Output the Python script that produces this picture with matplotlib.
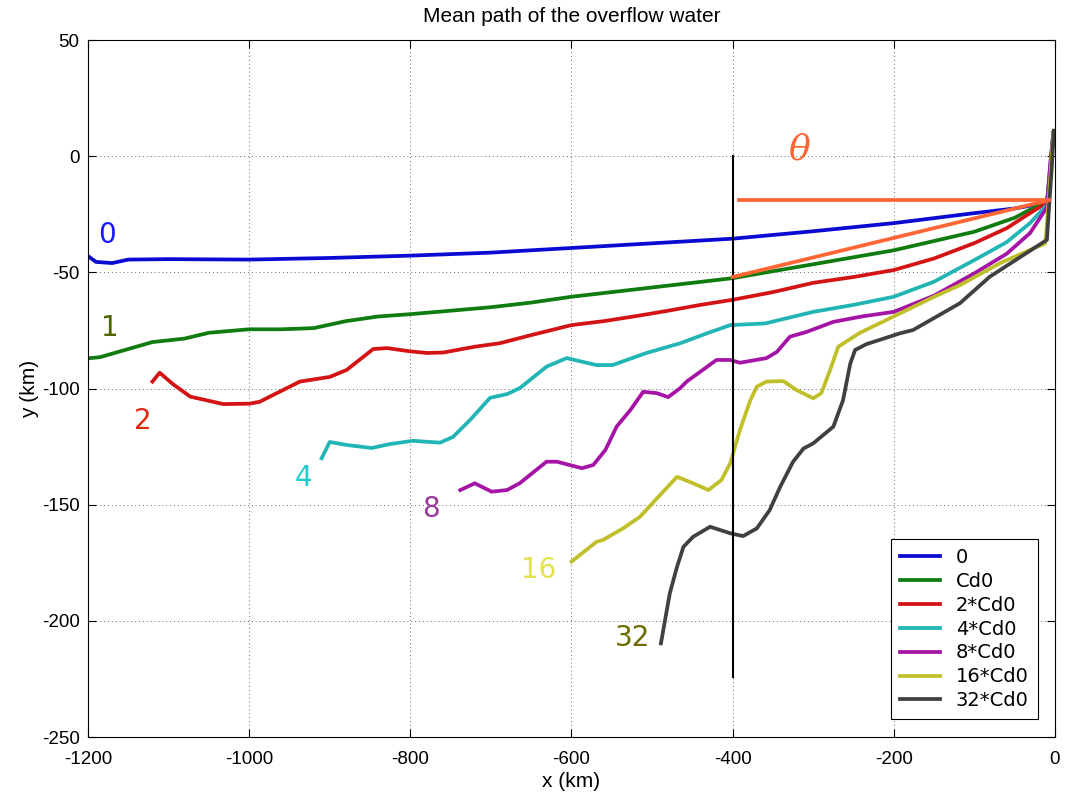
import matplotlib
matplotlib.use('Agg')
import matplotlib.pyplot as plt

plt.rcParams['axes.unicode_minus'] = False

# mean paths, x (km) / y (km)
x0 = [-1200, -1190, -1170, -1150, -1100, -1000, -900, -800, -700, -600, -500, -400,
      -300, -200, -100, -50, -10, -6, -2]
y0 = [-43, -45.5, -46, -44.5, -44.3, -44.5, -43.8, -42.8, -41.5, -39.5, -37.5, -35.5,
      -32.3, -28.8, -24.5, -22.5, -20, -10, 10]

x1 = [-1200, -1185, -1150, -1120, -1080, -1050, -1000, -960, -920, -880, -840, -800,
      -750, -700, -650, -600, -550, -500, -450, -400, -350, -300, -250, -200, -150,
      -100, -50, -31, -10, -6, -2]
y1 = [-87, -86.5, -83, -80, -78.5, -76, -74.5, -74.5, -74, -71, -69, -68,
      -66.5, -65, -63, -60.5, -58.5, -56.5, -54.5, -52.5, -49.5, -46.5, -43.5, -40.5, -36.5,
      -32.5, -26.5, -23, -20, -8, 10]

x2 = [-1120, -1111, -1095, -1073, -1032, -999, -987, -960, -937, -900, -879, -846, -829,
      -800, -779, -759, -720, -689, -650, -600, -560, -523, -480, -440, -400, -350,
      -300, -250, -200, -150, -100, -60, -31, -10, -6, -2]
y2 = [-97, -93.2, -98, -103.5, -106.7, -106.5, -105.7, -101, -97, -95, -92, -83, -82.6,
      -84, -84.7, -84.5, -82, -80.5, -77, -72.7, -71, -69, -66.5, -64, -61.8, -58.5,
      -54.5, -52, -49, -44, -37.4, -31, -24.5, -20, -6, 10]

x4 = [-910, -900, -879, -848, -825, -797, -763, -747, -726, -701, -680, -664, -631,
      -606, -569, -549, -507, -465, -430, -403, -360, -300, -250, -200, -150, -100,
      -60, -31, -10, -6, -2]
y4 = [-130, -123, -124.3, -125.6, -123.9, -122.5, -123.3, -120.8, -113.6, -104, -102.4,
      -99.8, -90.6, -86.9, -89.9, -89.9, -84.7, -80.5, -76, -72.7, -72, -67, -64, -60.5,
      -54, -44.7, -37, -28.8, -21, -4, 10]

x8 = [-738, -720, -699, -680, -664, -631, -618, -587, -573, -558, -544, -527, -511,
      -494, -480, -465, -457, -420, -403, -391, -358, -345, -329, -308, -275, -240,
      -200, -150, -100, -60, -31, -10, -6, -2]
y8 = [-143.7, -140.8, -144.4, -143.7, -140.7, -131.5, -131.5, -134.3, -132.9, -126.5,
      -116.4, -109.3, -101.4, -102, -103.7, -99.8, -97, -87.7, -87.7, -88.9, -86.9, -84.2,
      -77.7, -75.6, -71.3, -69, -67, -60, -50.4, -42, -33.1, -22, -4, 10]

x16 = [-600, -569, -561, -536, -515, -494, -469, -449, -430, -414, -403, -391, -378,
       -370, -358, -337, -321, -300, -290, -279, -269, -242, -192, -150, -118, -68,
       -12, -8, -5, -2]
y16 = [-174.5, -166, -165.2, -160.2, -155.2, -147.3, -138, -140.8, -143.7, -139.4,
       -132.2, -117.9, -105, -99.2, -97, -96.8, -100.6, -104.2, -102, -92, -82, -76,
       -67.6, -60.5, -55.5, -46, -37.5, -20, -5, 10]

x32 = [-489, -478, -469, -461, -449, -428, -403, -387, -370, -354, -341, -325, -312,
       -300, -275, -263, -254, -248, -234, -192, -176, -118, -81, -10, -7, -4, -1.5]
y32 = [-209.7, -188.2, -176.7, -168.1, -163.8, -159.5, -162.3, -163.5, -160.2, -152.3,
       -142.3, -131.5, -125.8, -123.6, -116.4, -105, -89.2, -83.4, -80.9, -76.2, -74.8,
       -63.3, -51.9, -36, -20, -5, 11]

paths = [(x0, y0), (x1, y1), (x2, y2), (x4, y4), (x8, y8), (x16, y16), (x32, y32)]
legend_labels = ['0', 'Cd0', '2*Cd0', '4*Cd0', '8*Cd0', '16*Cd0', '32*Cd0']
colors = ['#0a0ad2', '#107c10', '#d41414', '#22b5b5', '#a514a5', '#bfbf2a', '#404040']

# curve tags: text, x, y, colour
tag_text = ['0', '1', '2', '4', '8', '16', '32']
tag_x = [-1176, -1173, -1132, -933, -774, -641, -524]
tag_y = [-34, -74, -114, -138.5, -152, -178, -207.5]
tag_colors = ['#1a1aff', '#4d6600', '#e02a10', '#22cccc', '#9a3a9a', '#e2e24a', '#6b6b00']

# angle construction
vline_x = -400
vline_y = [0, -224]
theta_hx = [-392, -8]
theta_hy = [-19, -19]
theta_sx = [-400, -8]
theta_sy = [-52, -19]

fig = plt.figure(figsize=(10.65, 7.96), dpi=100)
ax = fig.add_axes([0.0826, 0.0741, 0.908, 0.8756])

for (xs, ys), c, lab in zip(paths, colors, legend_labels):
    ax.plot(xs, ys, color=c, lw=2.7, label=lab, solid_joinstyle='round')

ax.plot([vline_x, vline_x], vline_y, color='black', lw=1.5)
ax.plot(theta_hx, theta_hy, color='#ff6633', lw=2.7)
ax.plot(theta_sx, theta_sy, color='#ff6633', lw=2.7)
ax.text(-317, 3, '\u03b8', color='#ff6633', fontsize=26, ha='center', va='center',
        family='DejaVu Serif', style='italic')

for t, tx, ty, tc in zip(tag_text, tag_x, tag_y, tag_colors):
    ax.text(tx, ty, t, color=tc, fontsize=20, ha='center', va='center', family='DejaVu Sans')

ax.set_xlim(-1200, 0)
ax.set_ylim(-250, 50)
ax.set_xticks(range(-1200, 1, 200))
ax.set_yticks(range(-250, 51, 50))
ax.tick_params(direction='in', length=6, labelsize=13.5, top=True, right=True)
ax.tick_params(axis='x', pad=10)
ax.tick_params(axis='y', pad=6)
for lab in ax.get_xticklabels() + ax.get_yticklabels():
    lab.set_family('Liberation Sans')
ax.grid(True, color='black', linestyle=(0, (1, 3)), lw=0.7, alpha=0.6)
for s in ax.spines.values():
    s.set_linewidth(0.8)

ax.set_title('Mean path of the overflow water', fontsize=15, family='Liberation Sans', pad=13)
ax.set_xlabel('x (km)', fontsize=15, family='Liberation Sans', labelpad=3)
ax.set_ylabel('y (km)', fontsize=15, family='Liberation Sans', labelpad=2)

leg = ax.legend(loc='lower right', fontsize=14, fancybox=False, framealpha=1,
                edgecolor='black', handlelength=2.1, borderpad=0.45, labelspacing=0.25,
                bbox_to_anchor=(0.992, 0.012))
leg.get_frame().set_linewidth(0.8)

fig.savefig('out.png', dpi=100)
